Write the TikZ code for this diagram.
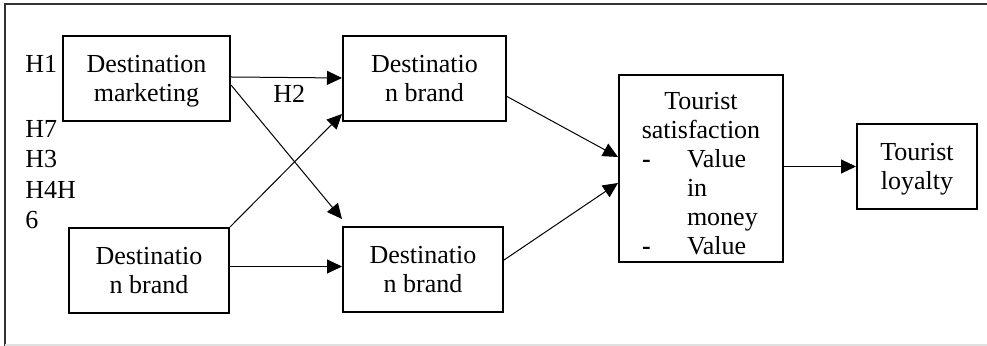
\documentclass[tikz,border=0pt]{standalone}
\usepackage{fontspec}
\setmainfont{Liberation Serif}
\usetikzlibrary{arrows.meta}

\begin{document}
\begin{tikzpicture}[x=0.5pt, y=-0.5pt,
    box/.style={rectangle, draw, line width=1pt, align=center, text depth=0pt, font=\fontsize{13}{14.5}\selectfont},
    lbl/.style={inner sep=0pt, font=\fontsize{13}{15.15}\selectfont},
    arr/.style={-{Triangle[length=7.5pt, width=7pt]}, line width=0.5pt}]
    \useasboundingbox (0,0) rectangle (987,346);
    % frame
    \draw[line width=1pt, black!80] (5,346) -- (5,4) -- (987,4);
    \draw[line width=0.75pt, black!12] (5,345) -- (987,345);

    \node[box, minimum width=83.5pt, minimum height=42.5pt] (dm) at (146.5,78.5) {Destination\\marketing};
    \node[box, minimum width=81.5pt, minimum height=42.5pt] (dbtop) at (424.5,78.5) {Destinatio\\n brand};
    \node[box, minimum width=80pt, minimum height=42.5pt] (dbleft) at (149,270.5) {Destinatio\\n brand};
    \node[box, minimum width=80pt, minimum height=42.5pt] (dbbot) at (423,269.5) {Destinatio\\n brand};
    \node[box, minimum width=82pt, minimum height=93.5pt] (ts) at (701,168.5) {\rule{0pt}{13.9pt}Tourist\\satisfaction\\
        \makebox[59pt][l]{\makebox[22.5pt][l]{\textbf{-}}Value}\\
        \makebox[59pt][l]{\hspace{22.5pt}in}\\
        \makebox[59pt][l]{\hspace{22.5pt}money}\\
        \makebox[59pt][l]{\makebox[22.5pt][l]{\textbf{-}}Value}};
    \node[box, minimum width=60pt, minimum height=42.5pt] (tl) at (917,166.5) {Tourist\\loyalty};

    % hypothesis labels
    \node[lbl, anchor=base west] (h1) at (25,73) {H1};
    \node[lbl, anchor=north west, align=left] (hrest) at (25,120) {H7\\H3\\H4H\\6};
    \node[lbl, anchor=base west] (h2) at (273,103) {H2};

    \draw[arr] ([yshift=0.75pt]dm.east) -- ([yshift=0.25pt]dbtop.west);
    \draw[arr] ([yshift=-3.25pt]dm.east) -- ([yshift=3.5pt]dbbot.north west);
    \draw[arr] (dbleft.north east) -- ([yshift=4pt]dbtop.south west);
    \draw[arr] ([yshift=2pt]dbleft.east) -- ([yshift=2pt]dbleft.east -| dbbot.west);
    \draw[arr] ([yshift=-9pt]dbtop.east) -- ([yshift=5.75pt]ts.west);
    \draw[arr] ([yshift=4.75pt]dbbot.east) -- ([yshift=-7.25pt]ts.west);
    \draw[arr] (ts.east |- tl.west) -- (tl.west);
\end{tikzpicture}
\end{document}
